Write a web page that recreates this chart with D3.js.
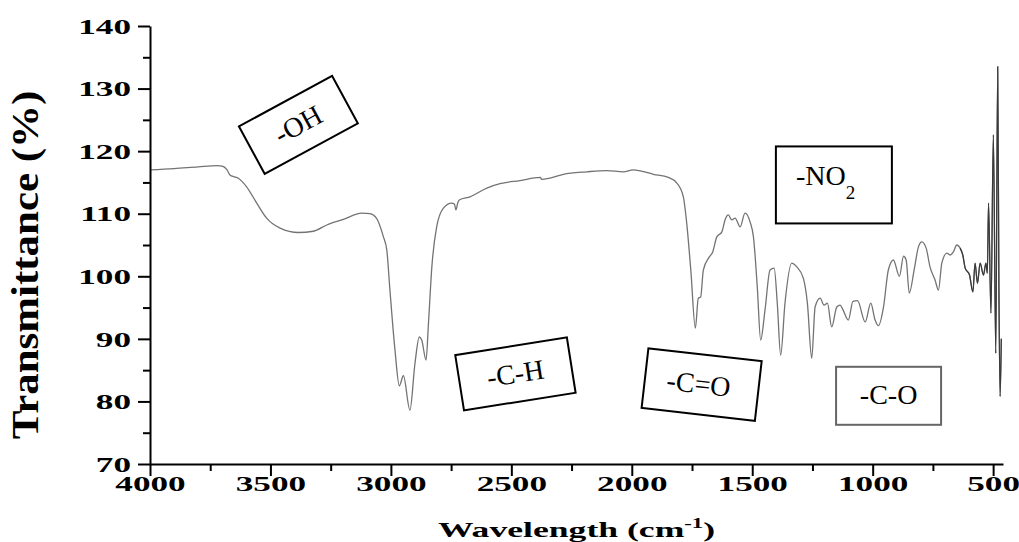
<!DOCTYPE html>
<html>
<head>
<meta charset="utf-8">
<script src="https://cdn.jsdelivr.net/npm/d3@7"></script>
<style>
  html, body { margin: 0; padding: 0; background: #fff; }
  svg { display: block; }
</style>
</head>
<body>
<svg id="chart" width="1019" height="542"></svg>
<script>
// ---- data ----
const wavenumber = [
  4000, 3900, 3800, 3720, 3700, 3680, 3668, 3650, 3635, 3599,
  3557, 3516, 3460, 3384, 3322, 3266, 3197, 3121, 3087, 3060,
  3031, 3017, 3004, 2983, 2965, 2948, 2921, 2900, 2882, 2872,
  2854, 2844, 2830, 2810, 2782, 2748, 2736, 2730, 2722, 2716,
  2671, 2602, 2547, 2464, 2380, 2374, 2340, 2284, 2187, 2104,
  2035, 1994, 1910, 1848, 1813, 1786, 1772, 1755, 1736, 1724,
  1714, 1703, 1678, 1664, 1647, 1626, 1613, 1599, 1585, 1571,
  1550, 1530, 1509, 1495, 1479, 1465, 1447, 1426, 1409, 1396,
  1382, 1364, 1336, 1315, 1288, 1271, 1253, 1239, 1218, 1202,
  1188, 1170, 1149, 1135, 1124, 1101, 1082, 1063, 1031, 1008,
  990, 976, 955, 935, 914, 889, 872, 861, 848, 828,
  810, 796, 778, 762, 741, 727, 713, 692, 679, 665,
  651, 637, 626, 616, 598, 584, 575, 565, 554, 540,
  530, 524, 519, 509, 499, 489, 481, 476, 471, 466
];
const transmittance = [
  117.0, 117.2, 117.5, 117.7, 117.6, 117.0, 116.2, 115.9, 115.7, 114.3,
  111.7, 109.3, 107.7, 107.0, 107.2, 108.2, 109.1, 110.1, 110.0, 109.3,
  106.3, 104.2, 97.8, 88.2, 82.5, 84.1, 78.6, 86.1, 90.3, 89.8,
  86.6, 92.5, 101.5, 107.9, 110.9, 111.7, 111.5, 110.6, 111.8, 112.2,
  112.7, 114.1, 114.8, 115.3, 115.8, 115.5, 115.7, 116.3, 116.7, 116.9,
  116.7, 117.0, 116.3, 115.8, 114.9, 112.7, 108.5, 101.0, 91.7, 96.5,
  96.7, 101.0, 103.1, 103.9, 106.3, 107.1, 109.0, 109.8, 109.0, 109.3,
  107.9, 110.1, 108.7, 106.3, 98.3, 89.8, 94.6, 101.0, 101.3, 95.7,
  87.4, 95.7, 102.1, 101.5, 99.7, 95.7, 86.9, 95.1, 96.5, 95.4,
  95.7, 91.9, 95.1, 95.4, 94.7, 93.0, 96.0, 96.1, 92.7, 95.7,
  93.0, 92.1, 95.1, 101.0, 102.6, 100.0, 103.2, 102.6, 97.3, 101.0,
  104.7, 105.5, 104.5, 101.5, 99.4, 97.8, 102.1, 103.7, 103.4, 103.9,
  105.0, 104.5, 103.4, 101.3, 100.2, 97.5, 102.1, 98.9, 102.1, 100.2,
  102.1, 100.5, 111.7, 94.1, 122.6, 87.7, 133.5, 98.1, 80.8, 90.0
];
const xTicks = [4000, 3500, 3000, 2500, 2000, 1500, 1000, 500];
const xMinorTicks = [3750, 3250, 2750, 2250, 1750, 1250, 750];
const yTicks = [70, 80, 90, 100, 110, 120, 130, 140];
const yMinorTicks = [75, 85, 95, 105, 115, 125, 135];

// annotation labels and their anchor points (data units)
const annoText = ["-OH", "-C-H", "-C=O", "-NO", "-C-O"];
const annoSub = ["", "", "", "2", ""];
const annoWave = [3384, 2483, 1710, 1161, 934];
const annoTrans = [124.2, 84.4, 82.7, 114.6, 80.9];

// ---- layout ----
const svg = d3.select("#chart");
const mLeft = 150, mRight = 1003, mTop = 26, mBottom = 464;

const x = d3.scaleLinear().domain([4000, 459]).range([mLeft, mRight]);
const y = d3.scaleLinear().domain([70, 140]).range([mBottom, mTop]);

const serif = "'Liberation Serif', 'Times New Roman', serif";

// spectrum line
const pts = wavenumber.map((w, i) => [w, transmittance[i]]);
const line = d3.line()
  .x(d => x(d[0]))
  .y(d => y(d[1]))
  .curve(d3.curveMonotoneX);
svg.append("path")
  .datum(pts)
  .attr("d", line)
  .attr("fill", "none")
  .attr("stroke", "#737373")
  .attr("stroke-width", 1.3)
  .attr("stroke-linejoin", "round");
// the noisy low-wavenumber end is drawn darker in the reference
svg.append("path")
  .datum(pts.filter(d => d[0] <= 640))
  .attr("d", line)
  .attr("fill", "none")
  .attr("stroke", "#3a3a3a")
  .attr("stroke-width", 1.2)
  .attr("stroke-linejoin", "round");

// minor ticks
svg.append("g")
  .attr("transform", `translate(0,${mBottom})`)
  .call(d3.axisBottom(x).tickValues(xMinorTicks).tickSize(7).tickFormat(""))
  .call(g => g.select(".domain").remove())
  .call(g => g.selectAll("line").attr("stroke", "#000").attr("stroke-width", 2));
svg.append("g")
  .attr("transform", `translate(${mLeft},0)`)
  .call(d3.axisLeft(y).tickValues(yMinorTicks).tickSize(7).tickFormat(""))
  .call(g => g.select(".domain").remove())
  .call(g => g.selectAll("line").attr("stroke", "#000").attr("stroke-width", 2));

// major axes
const xAxis = svg.append("g")
  .attr("transform", `translate(0,${mBottom})`)
  .call(d3.axisBottom(x).tickValues(xTicks).tickSize(12).tickSizeOuter(0).tickFormat(d3.format("d")));
xAxis.select(".domain").attr("stroke", "#000").attr("stroke-width", 2);
xAxis.selectAll(".tick line").attr("stroke", "#000").attr("stroke-width", 2);
xAxis.selectAll(".tick text")
  .attr("x", null).attr("y", 0).attr("dy", 0)
  .attr("transform", "translate(0,27) scale(1.6,1)")
  .attr("fill", "#000")
  .style("font-family", serif).style("font-weight", "bold").style("font-size", "22px");

const yAxis = svg.append("g")
  .attr("transform", `translate(${mLeft},0)`)
  .call(d3.axisLeft(y).tickValues(yTicks).tickSize(12).tickSizeOuter(0));
yAxis.select(".domain").attr("stroke", "#000").attr("stroke-width", 2);
yAxis.selectAll(".tick line").attr("stroke", "#000").attr("stroke-width", 2);
yAxis.selectAll(".tick text")
  .attr("x", 0).attr("y", 0).attr("dy", "0.33em")
  .attr("text-anchor", "end")
  .attr("transform", "translate(-19,0) scale(1.6,1)")
  .attr("fill", "#000")
  .style("font-family", serif).style("font-weight", "bold").style("font-size", "22px");

// axis titles
const xt = svg.append("g").attr("transform", `translate(${(mLeft + mRight) / 2},537) scale(1.62,1)`)
  .append("text")
  .attr("text-anchor", "middle")
  .style("font-family", serif).style("font-weight", "bold").style("font-size", "22px");
xt.append("tspan").text("Wavelength (cm");
xt.append("tspan").attr("dy", -9).style("font-size", "14px").text("-1");
xt.append("tspan").attr("dy", 9).text(")");

svg.append("g").attr("transform", `translate(38,265) rotate(-90) scale(1.13,1)`)
  .append("text")
  .attr("text-anchor", "middle")
  .style("font-family", serif).style("font-weight", "bold").style("font-size", "38px")
  .text("Transmittance (%)");

// annotation boxes
const boxStyle = [
  { w: 106, h: 54, a: -28.5, stroke: "#000", tx: 0, ty: 9 },
  { w: 113, h: 56, a: -9, stroke: "#000", tx: 0, ty: 9 },
  { w: 114, h: 60, a: 6.5, stroke: "#000", tx: -3, ty: 9 },
  { w: 116, h: 77, a: 0, stroke: "#000", tx: -38, ty: 0 },
  { w: 105, h: 58, a: 0, stroke: "#666", tx: 0, ty: 8 }
];
annoText.forEach((t, i) => {
  const s = boxStyle[i];
  const g = svg.append("g")
    .attr("transform", `translate(${x(annoWave[i])},${y(annoTrans[i])}) rotate(${s.a})`);
  g.append("rect")
    .attr("x", -s.w / 2).attr("y", -s.h / 2)
    .attr("width", s.w).attr("height", s.h)
    .attr("fill", "none").attr("stroke", s.stroke).attr("stroke-width", 2);
  const txt = g.append("text")
    .attr("x", s.tx).attr("y", s.ty)
    .attr("text-anchor", annoSub[i] ? "start" : "middle")
    .style("font-family", serif).style("font-size", "28px").attr("fill", "#000");
  txt.append("tspan").text(t);
  if (annoSub[i]) {
    txt.append("tspan").attr("dy", 14).style("font-size", "19px").text(annoSub[i]);
  }
});
</script>
</body>
</html>
